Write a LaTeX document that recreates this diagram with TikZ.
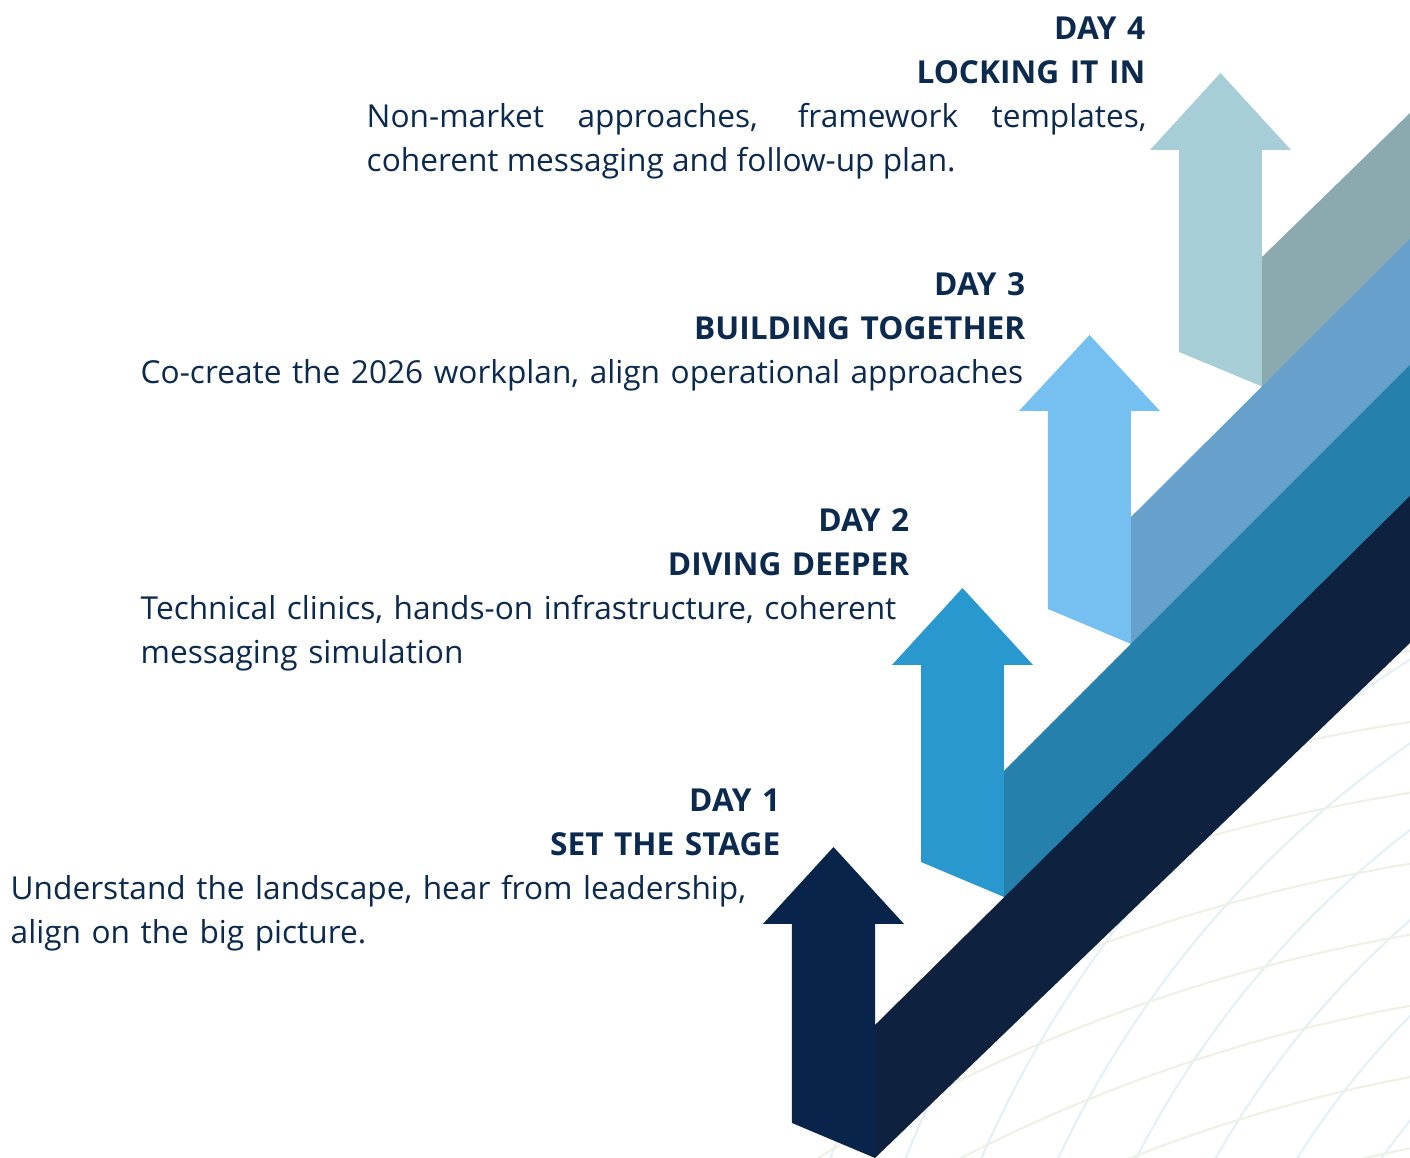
\documentclass[tikz,border=0pt]{standalone}
\usepackage{fontspec}
\setmainfont{Open Sans}
\usepackage{tikz}
\usetikzlibrary{positioning,calc}

\definecolor{inkblue}{HTML}{0B2A4E}
\definecolor{arrowone}{HTML}{08244A}
\definecolor{bandone}{HTML}{0E2240}
\definecolor{arrowtwo}{HTML}{2898CF}
\definecolor{bandtwo}{HTML}{2581AB}
\definecolor{arrowthree}{HTML}{76C0F1}
\definecolor{bandthree}{HTML}{66A0CB}
\definecolor{arrowfour}{HTML}{A7CED6}
\definecolor{bandfour}{HTML}{8AAAB0}
\definecolor{meshblue}{HTML}{E4F0F5}
\definecolor{meshcream}{HTML}{EEF2E6}

\tikzset{
  daytitle/.style={font=\bfseries\fontsize{9pt}{12.52pt}\selectfont, text=inkblue,
    inner sep=0pt, text width=5cm, align=right, anchor=base east},
  daytext/.style={font=\fontsize{9pt}{12.52pt}\selectfont, text=inkblue,
    inner sep=0pt, anchor=base west},
  meshline/.style={line width=0.6pt}
}

\begin{document}
\begin{tikzpicture}
    \useasboundingbox (0,0) rectangle (14.1,11.58);

    % Background mesh
    \begin{scope}
        \clip (7.9,0) -- (14.1,0) -- (14.1,5.3) -- (9.4,1.9) -- cycle;
        \foreach \r in {7.6,8.3,...,13.2}
            \draw[meshline, meshblue] (20,-4.42) circle (\r);
        \foreach \r in {14.8,15.5,...,20.4}
            \draw[meshline, meshcream] (17,-14.42) circle (\r);
    \end{scope}

    % Draw the bands
    \fill[bandfour] (12.62,7.60) -- (12.62,9.01) -- (14.1,10.45) -- (14.1,9.08) -- cycle;
    \fill[bandthree] (11.31,5.03) -- (11.31,6.41) -- (14.1,9.19) -- (14.1,7.82) -- cycle;
    \fill[bandtwo] (10.04,2.50) -- (10.04,3.87) -- (14.1,7.93) -- (14.1,6.51) -- cycle;
    \fill[bandone] (8.75,0) -- (8.75,1.33) -- (14.1,6.62) -- (14.1,5.15) -- cycle;

    % Draw the arrows
    \fill[arrowone] (7.92,0.35) -- (7.92,2.34) -- (7.63,2.34) -- (8.335,3.11)
        -- (9.04,2.34) -- (8.75,2.34) -- (8.75,0) -- cycle;
    \fill[arrowtwo] (9.21,2.96) -- (9.21,4.93) -- (8.92,4.93) -- (9.625,5.70)
        -- (10.33,4.93) -- (10.04,4.93) -- (10.04,2.61) -- cycle;
    \fill[arrowthree] (10.48,5.49) -- (10.48,7.47) -- (10.19,7.47) -- (10.895,8.23)
        -- (11.60,7.47) -- (11.31,7.47) -- (11.31,5.14) -- cycle;
    \fill[arrowfour] (11.79,8.06) -- (11.79,10.08) -- (11.50,10.08) -- (12.205,10.85)
        -- (12.91,10.08) -- (12.62,10.08) -- (12.62,7.715) -- cycle;

    % Labels
    \node[daytitle] (title4) at (11.46,11.18) {DAY 4\\LOCKING IT IN};
    \node[daytext, text width=7.8cm, align=justify] (text4) at (3.66,10.30)
        {Non-market approaches, framework templates,\linebreak coherent messaging and follow-up plan.};

    \node[daytitle] (title3) at (10.26,8.62) {DAY 3\\BUILDING TOGETHER};
    \node[daytext, text width=9.2cm, align=left] (text3) at (1.40,7.74)
        {Co-create the 2026 workplan, align operational approaches};

    \node[daytitle] (title2) at (9.10,6.26) {DAY 2\\DIVING DEEPER};
    \node[daytext, text width=8.5cm, align=left] (text2) at (1.40,5.38)
        {Technical clinics, hands-on infrastructure, coherent\\messaging simulation};

    \node[daytitle] (title1) at (7.81,3.46) {DAY 1\\SET THE STAGE};
    \node[daytext, text width=8.5cm, align=left] (text1) at (0.10,2.58)
        {Understand the landscape, hear from leadership,\\align on the big picture.};
\end{tikzpicture}
\end{document}
